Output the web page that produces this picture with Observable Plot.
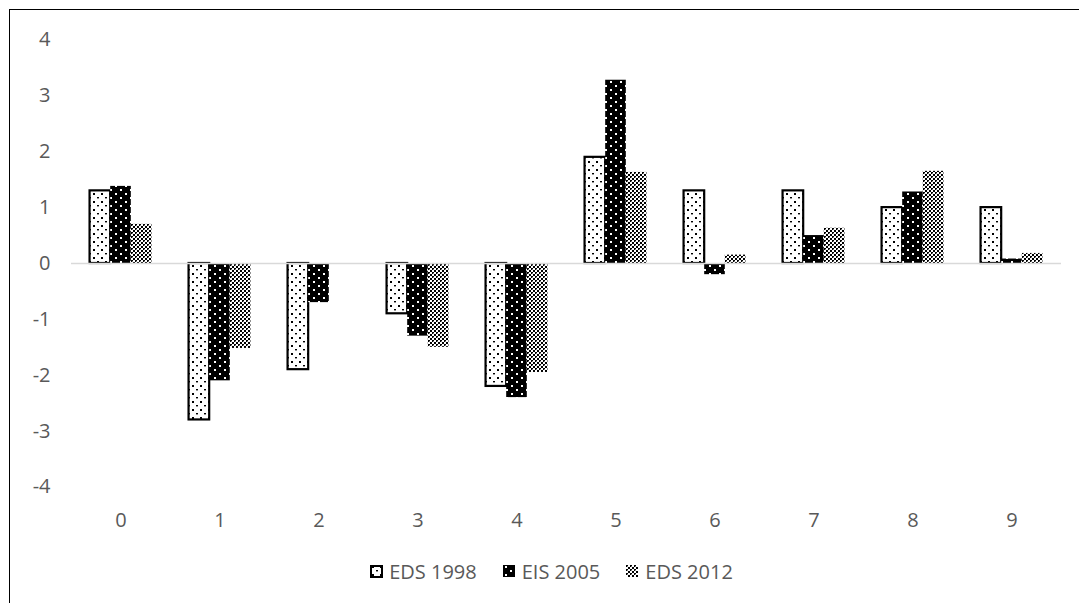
<!DOCTYPE html>
<html>
<head>
<meta charset="utf-8">
<script src="https://cdn.jsdelivr.net/npm/d3@7"></script>
<script src="https://cdn.jsdelivr.net/npm/@observablehq/plot@0.6"></script>
<style>
  html, body { margin: 0; padding: 0; background: #fff; overflow: hidden; width: 1079px; height: 603px; }
  #frame { position: absolute; left: 9px; top: 9px; width: 1100px; height: 640px; border-left: 1px solid #000; border-top: 1px solid #000; }
  #chart { position: absolute; left: 0; top: 0; }
  #legend { position: absolute; left: 0; top: 558px; width: 1079px; display: flex; justify-content: center; padding-left: 24px; box-sizing: border-box;
    font-family: "Open Sans", sans-serif; font-size: 20px; color: #595959; }
  .item { display: flex; align-items: center; margin: 0 13px; }
  .item svg { margin-right: 6px; }
</style>
</head>
<body>
<div id="frame"></div>
<div id="chart"></div>
<div id="legend"></div>
<script>
const categories = ["0","1","2","3","4","5","6","7","8","9"];
const seriesNames = ["EDS 1998", "EIS 2005", "EDS 2012"];
const eds1998 = [1.3, -2.8, -1.9, -0.9, -2.2, 1.9, 1.3, 1.3, 1.0, 1.0];
const eis2005 = [1.38, -2.1, -0.7, -1.3, -2.4, 3.28, -0.2, 0.5, 1.28, 0.08];
const eds2012 = [0.7, -1.52, 0, -1.5, -1.95, 1.63, 0.15, 0.63, 1.65, 0.18];
const yTicks = [-4, -3, -2, -1, 0, 1, 2, 3, 4];

const patternIds = {"EDS 1998": "pat1998", "EIS 2005": "pat2005", "EDS 2012": "pat2012"};
const strokes = {"EDS 1998": "#000", "EIS 2005": "none", "EDS 2012": "none"};

const seriesValues = [eds1998, eis2005, eds2012];
const data = [];
categories.forEach((c, i) => {
  seriesNames.forEach((s, j) => data.push({cat: c, series: s, value: seriesValues[j][i]}));
});

const defs = `
<defs>
  <pattern id="pat1998" width="8" height="8" patternUnits="userSpaceOnUse">
    <rect width="8" height="8" fill="#fff"/>
    <rect x="2" y="1" width="2" height="2" fill="#000"/>
    <rect x="6" y="5" width="2" height="1.4" fill="#000"/>
  </pattern>
  <pattern id="pat2005" width="10" height="8" patternUnits="userSpaceOnUse">
    <rect width="10" height="8" fill="#000"/>
    <rect x="2" y="1" width="2" height="2" fill="#fff"/>
    <rect x="7" y="5" width="2" height="2" fill="#fff"/>
  </pattern>
  <pattern id="pat2012" width="4" height="4" patternUnits="userSpaceOnUse">
    <rect width="4" height="4" fill="#fff"/>
    <rect x="0" y="0" width="2" height="2" fill="#000"/>
    <rect x="2" y="2" width="2" height="2" fill="#000"/>
    <rect x="1" y="1" width="1" height="1" fill="#888"/>
  </pattern>
</defs>`;

const chart = Plot.plot({
  width: 1079,
  height: 540,
  marginLeft: 68,
  marginRight: 15,
  marginTop: 39.5,
  marginBottom: 53.5,
  style: {fontFamily: "Open Sans, sans-serif", fontSize: "20px", color: "#595959", background: "transparent"},
  fx: {domain: categories, padding: 0, label: null, tickSize: 0, tickPadding: 26},
  x: {domain: seriesNames, paddingInner: 0, paddingOuter: 0.9, round: false, axis: null},
  y: {domain: [-4, 4], ticks: yTicks, tickSize: 0, tickPadding: 21, label: null, tickFormat: d => String(d)},
  marks: [
    Plot.barY(data, {
      fx: "cat",
      x: "series",
      y: "value",
      fill: d => `url(#${patternIds[d.series]})`,
      stroke: d => strokes[d.series],
      strokeWidth: 2.2,
      insetLeft: 0, insetRight: 0
    }),
    Plot.ruleY([0], {stroke: "#d9d9d9", strokeWidth: 1.5})
  ]
});
chart.insertAdjacentHTML("afterbegin", defs);
document.getElementById("chart").appendChild(chart);

const legend = document.getElementById("legend");
seriesNames.forEach(s => {
  const item = document.createElement("div");
  item.className = "item";
  const stroke = s === "EDS 1998" ? `<rect x="1" y="1" width="11" height="11" fill="url(#${patternIds[s]})" stroke="#000" stroke-width="2"/>`
                                   : `<rect x="0" y="0" width="12" height="12" fill="url(#${patternIds[s]})"/>`;
  item.innerHTML = `<svg width="13" height="13">${defs}${stroke}</svg><span>${s}</span>`;
  legend.appendChild(item);
});
</script>
</body>
</html>
